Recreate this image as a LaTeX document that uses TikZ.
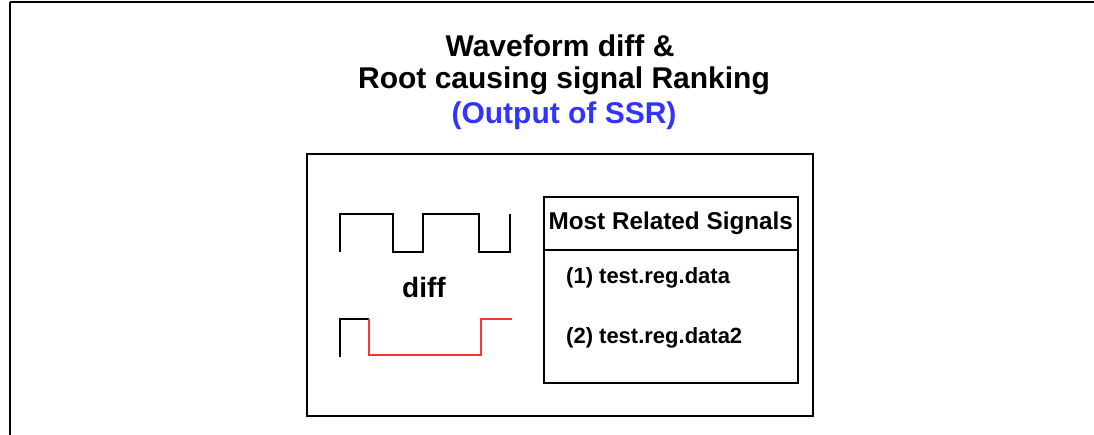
\documentclass[tikz,border=0pt]{standalone}
\usepackage{fontspec}
\setmainfont{Liberation Sans}
\definecolor{ssrblue}{HTML}{3333FF}
\definecolor{wavered}{HTML}{FF3333}
\begin{document}
\begin{tikzpicture}[x=1pt,y=-1pt,
  frame/.style={draw=black,line width=1.6pt},
  wave/.style={line width=1.5pt,line join=miter},
  titletext/.style={font=\bfseries\fontsize{30}{34}\selectfont,inner sep=0pt,anchor=center},
  sigtext/.style={font=\bfseries\fontsize{22}{26}\selectfont,inner sep=0pt}]
\useasboundingbox (0,0) rectangle (1094,435);
\begin{scope}
\clip (0,0) rectangle (1094,435);
\draw[frame] (10,2) -- (1200,2);
\draw[frame] (10,2) -- (10,500);
\end{scope}
\node[titletext] (t1) at (560,46) {Waveform diff \&};
\node[titletext] (t2) at (564,81) {Root causing signal Ranking};
\node[titletext,text=ssrblue] (t3) at (564,116) {(Output of SSR)};
% inner box
\draw[frame] (307,154) rectangle (813,416);
% table
\node[frame,minimum width=254pt,minimum height=53pt,inner sep=0pt,anchor=north west] (hdr) at (543,196) {};
\node[sigtext,font=\bfseries\fontsize{24.3}{28}\selectfont] (hdrtext) at (hdr.center) {Most Related Signals};
\node[frame,minimum width=254pt,minimum height=133pt,inner sep=0pt,anchor=north west] (body) at (543,249) {};
\node[sigtext,anchor=west] (s1) at (566,278) {(1) test.reg.data};
\node[sigtext,anchor=west] (s2) at (566,338) {(2) test.reg.data2};
% waveforms
\draw[wave] (340,252) -- (340,214) -- (393,214) -- (393,252) -- (423,252) -- (423,214) -- (479,214) -- (479,252) -- (510,252) -- (510,214);
\node[titletext,font=\bfseries\fontsize{28}{32}\selectfont] (diff) at (424,287) {diff};
\draw[wave] (340,357) -- (340,319) -- (369,319);
\draw[wave,wavered] (369,319) -- (369,355) -- (481,355) -- (481,319) -- (512,319);
\end{tikzpicture}
\end{document}
